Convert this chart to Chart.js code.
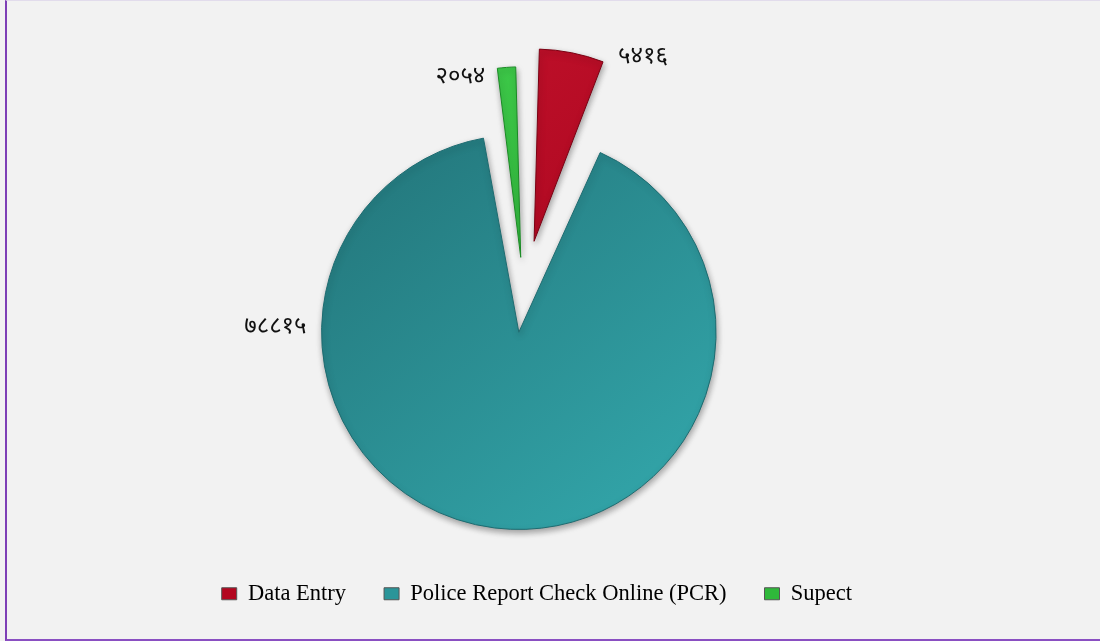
<!DOCTYPE html>
<html>
<head>
<meta charset="utf-8">
<script src="https://cdn.jsdelivr.net/npm/chart.js@4.4.1/dist/chart.umd.min.js"></script>
<style>
  html, body { margin: 0; padding: 0; background: #f2f2f2; }
  .frame {
    position: absolute; left: 5px; top: 0; width: 1093px; height: 638px;
    border-left: 2px solid #7e3fb6; border-bottom: 2px solid #8a4fc2;
    border-top: 1px solid #e2dcec; border-right: 1px solid #e6e2ec;
  }
  #chart { position: absolute; left: 0; top: 0; }
</style>
</head>
<body>
<div class="frame"></div>
<canvas id="chart" width="1100" height="641"></canvas>
<script>
const categories = ["Data Entry", "Police Report Check Online (PCR)", "Supect"];
const values = [5416, 78815, 2054];
const sliceOffsets = [216, 153, 148];
const legendColors = ["#b3061f", "#2a9599", "#2fb83a"];

const devanagariDigits = "०१२३४५६७८९";
function toDevanagari(n) {
  return String(n).replace(/[0-9]/g, (d) => devanagariDigits[d]);
}

// gradient fill per slice, built from the chart area
function sliceFill(context) {
  const chart = context.chart;
  const area = chart.chartArea;
  if (!area) return legendColors[context.dataIndex];
  const ctx = chart.ctx;
  const midX = (area.left + area.right) / 2;
  const g = ctx.createLinearGradient(midX - 200, area.top, midX + 200, area.bottom);
  if (context.dataIndex === 0) {
    g.addColorStop(0, "#c8142e");
    g.addColorStop(1, "#9c0018");
  } else if (context.dataIndex === 1) {
    g.addColorStop(0, "#216f74");
    g.addColorStop(1, "#35aeb2");
  } else {
    g.addColorStop(0, "#46d552");
    g.addColorStop(1, "#1f9e2a");
  }
  return g;
}

const shadowPlugin = {
  id: "sliceShadow",
  beforeDatasetsDraw(chart) {
    const ctx = chart.ctx;
    ctx.save();
    ctx.shadowColor = "rgba(0,0,0,0.35)";
    ctx.shadowBlur = 6;
    ctx.shadowOffsetX = 1;
    ctx.shadowOffsetY = 3;
  },
  afterDatasetsDraw(chart) {
    chart.ctx.restore();
  },
};

const labelPlugin = {
  id: "sliceLabels",
  afterDraw(chart) {
    const ctx = chart.ctx;
    const meta = chart.getDatasetMeta(0);
    const TAU = Math.PI * 2;
    ctx.save();
    ctx.font = "24px 'Noto Sans', sans-serif";
    ctx.fillStyle = "#111";
    ctx.textBaseline = "middle";
    meta.data.forEach((arc, i) => {
      const p = arc.getProps(["x", "y", "startAngle", "endAngle", "outerRadius", "circumference"], true);
      const t = (arc.options.offset || 0) / 4;
      const mid = (p.startAngle + p.endAngle) / 2;
      const cx = p.x + Math.cos(mid) * t;
      const cy = p.y + Math.sin(mid) * t;
      const fix = 1 - Math.sin(Math.min(Math.PI, p.circumference));
      const r = p.outerRadius + t * fix;
      // angle measured clockwise from 12 o'clock
      const rel = (((mid + Math.PI / 2) % TAU) + TAU) % TAU;
      let ax, ay;
      if (p.startAngle < Math.PI && p.endAngle > Math.PI) {
        ax = cx - r - 15; ay = cy - 6;
        ctx.textAlign = "right";
      } else if (rel < Math.PI) {
        ax = cx + Math.cos(p.endAngle) * r + 10;
        ay = cy + Math.sin(p.endAngle) * r - 8;
        ctx.textAlign = "left";
      } else {
        ax = cx + Math.cos(p.startAngle) * r - 7;
        ay = cy + Math.sin(p.startAngle) * r + 7;
        ctx.textAlign = "right";
      }
      ctx.fillText(toDevanagari(values[i]), ax, ay);
    });
    ctx.restore();
  },
};

new Chart(document.getElementById("chart"), {
  type: "pie",
  data: {
    labels: categories,
    datasets: [
      {
        data: values,
        backgroundColor: sliceFill,
        borderColor: ["#7a0012", "#1d6b70", "#1a8a24"],
        borderWidth: 1,
        offset: sliceOffsets,
        radius: 159,
      },
    ],
  },
  options: {
    responsive: false,
    animation: false,
    layout: { padding: { top: 44, left: 157, right: 210, bottom: 26 } },
    plugins: {
      tooltip: { enabled: false },
      legend: {
        position: "bottom",
        align: "end",
        labels: {
          boxWidth: 15,
          boxHeight: 12,
          padding: 38,
          color: "#000",
          font: { family: "'Liberation Serif', 'Times New Roman', serif", size: 22.5 },
          generateLabels(chart) {
            return categories.map((c, i) => ({
              text: c,
              fillStyle: legendColors[i],
              strokeStyle: "#555",
              lineWidth: 1,
              index: i,
            }));
          },
        },
      },
    },
  },
  plugins: [shadowPlugin, labelPlugin],
});
</script>
</body>
</html>
